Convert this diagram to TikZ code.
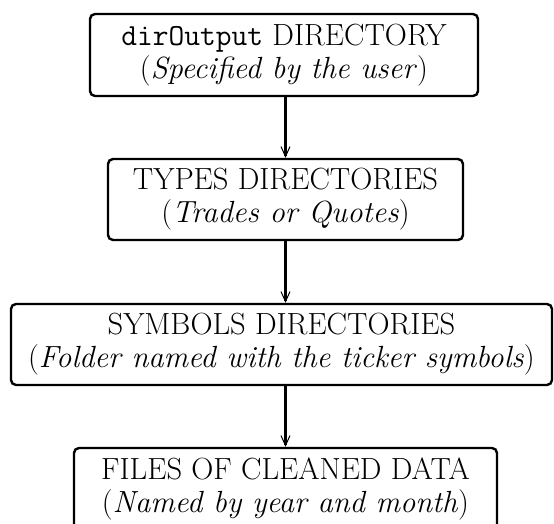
\documentclass[tikz,border=0pt]{standalone}
\usetikzlibrary{arrows.meta}
\begin{document}
\begin{tikzpicture}[x=0.5pt,y=-0.5pt,
  box/.style={draw, line width=1.2pt, rounded corners=2.5pt, align=center,
    inner sep=0pt, font=\fontsize{15.3}{16.5}\selectfont},
  link/.style={line width=1.2pt, -{Straight Barb[length=5pt,width=4.5pt,line width=0.5pt]}}]
\useasboundingbox (0,0) rectangle (554,524);
\node[box, minimum width=194pt, minimum height=41pt] (b1) at (284,55)
  {\texttt{dirOutput} DIRECTORY\\(\textit{Specified by the user})};
\node[box, minimum width=177.5pt, minimum height=40.5pt] (b2) at (285.5,199.5)
  {TYPES DIRECTORIES\\(\textit{Trades or Quotes})};
\node[box, minimum width=270.5pt, minimum height=40.5pt] (b3) at (281.5,344.5)
  {SYMBOLS DIRECTORIES\\(\textit{Folder named with the ticker symbols})};
\node[box, minimum width=211.5pt, minimum height=41pt] (b4) at (285.5,489)
  {FILES OF CLEANED DATA\\(\textit{Named by year and month})};
\draw[link] (b1.south -| b2.north) -- (b2.north);
\draw[link] (b2.south) -- (b3.north -| b2.south);
\draw[link] (b3.south -| b4.north) -- (b4.north);
\end{tikzpicture}
\end{document}
